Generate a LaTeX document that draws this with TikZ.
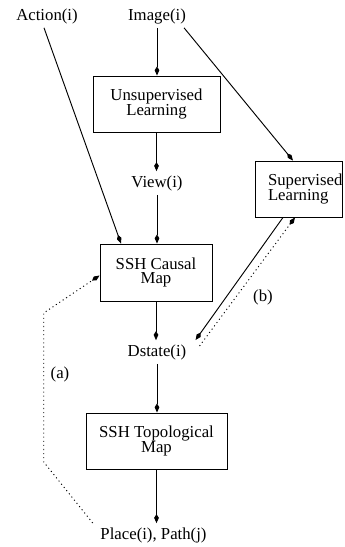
\documentclass[tikz,border=0pt]{standalone}
\usepackage{fontspec}
\setmainfont{Liberation Serif}
\usepackage{tikz}
\usetikzlibrary{arrows.meta, positioning, calc}

\begin{document}
\begin{tikzpicture}[x=0.03cm, y=-0.03cm,
    every node/.style={font=\fontsize{14.3pt}{12pt}\selectfont},
    box/.style={rectangle, draw, line width=0.8pt, minimum height=1.68cm, inner sep=0pt, align=center},
    lbl/.style={inner sep=1.2mm},
    arrow/.style={-{Kite[length=2.7mm, width=1.4mm, inset=1.1mm]}, line width=0.8pt},
    dotarrow/.style={arrow, dash pattern=on 0.9pt off 2.6pt}]

    \useasboundingbox (0,0) rectangle (345,547);

    % Nodes
    \node[lbl] (act) at (47,16) {Action(i)};
    \node[lbl] (img) at (157,16) {Image(i)};
    \node[box, minimum width=3.81cm] (unsup) at (156.5,104) {Unsupervised\\Learning};
    \node[lbl] (view) at (157,183) {View(i)};
    \node[box, minimum width=2.61cm, text width=1.83cm, align=left] (sup) at (298.5,189) {Supervised\\Learning};
    \node[box, minimum width=3.36cm, minimum height=1.71cm] (causal) at (156,272.5) {SSH Causal\\Map};
    \node[lbl] (dstate) at (157,352) {Dstate(i)};
    \node[box, minimum width=4.23cm] (topo) at (156.5,441) {SSH Topological\\Map};
    \node[lbl] (place) at (153.5,535) {Place(i), Path(j)};

    % Labels
    \node (la) at (60,374) {(a)};
    \node (lb) at (263,297) {(b)};

    % Main chain
    \draw[arrow] (img.south) -- (img.south |- unsup.north);
    \draw[arrow] (unsup.south) -- (unsup.south |- view.north);
    \draw[arrow] (view.south) -- (view.south |- causal.north);
    \draw[arrow] (causal.south) -- (causal.south |- dstate.north);
    \draw[arrow] (dstate.south) -- (dstate.south |- topo.north);
    \draw[arrow] (topo.south) -- (topo.south |- place.north);

    % Side inputs
    \draw[arrow] ($(act.south)+(-3,0)$) -- ($(causal.north)+(-35,0)$);
    \draw[arrow] ($(img.south east)+(-6,0)$) -- ($(sup.north)+(-5.5,0)$);
    \draw[arrow] ($(sup.south)+(-15.5,0)$) -- ($(dstate.east)+(5,-12)$);

    % Feedback (dotted)
    \draw[dotarrow] ($(dstate.east)+(9,-6)$) -- ($(sup.south)+(-3.5,0)$);
    \draw[dotarrow] ($(place.west)+(-3.5,-12)$) -- ++(-49,-61) -- ++(0,-149) -- ($(causal.west)+(0,3)$);

\end{tikzpicture}
\end{document}
